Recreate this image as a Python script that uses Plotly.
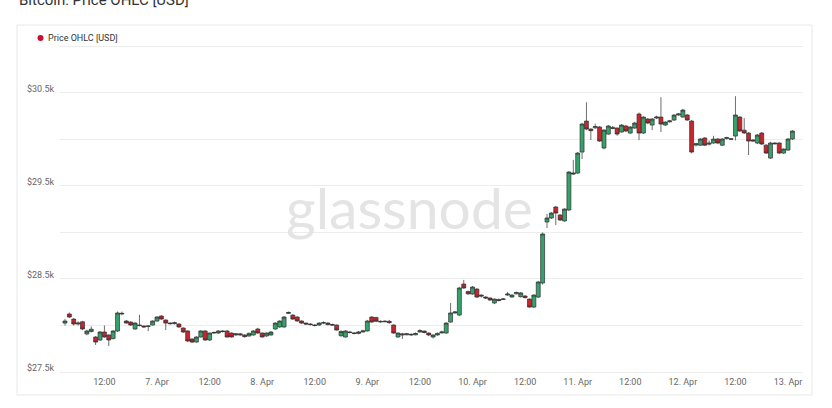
import plotly.graph_objects as go
import pandas as pd

# ---------------- data ----------------
times = pd.date_range("2023-04-06 03:00", periods=167, freq="h")

opens = [28026, 28124, 28069, 28016, 28040, 27909, 27935, 27876, 27844, 27930,
         27898, 27860, 27941, 28124, 28048, 28037, 27962, 28005, 27995, 27990,
         28005, 28048, 28102, 28059, 28026, 28020, 28016, 27973, 27941, 27855,
         27822, 27876, 27941, 27844, 27919, 27919, 27941, 27941, 27919, 27898,
         27910, 27898, 27887, 27898, 27962, 27919, 27887, 27898, 27962, 27984,
         27984, 28130, 28112, 28091, 28048, 28026, 28016, 28005, 28005, 28026,
         28026, 28010, 28005, 27890, 27876, 27930, 27920, 27915, 27930, 27941,
         28091, 28085, 28045, 28040, 28045, 28005, 27876, 27910, 27900, 27905,
         27900, 27930, 27940, 27919, 27876, 27898, 27920, 27919, 28037, 28135,
         28112, 28446, 28365, 28338, 28392, 28327, 28306, 28296, 28242, 28280,
         28280, 28327, 28306, 28340, 28310, 28317, 28284, 28198, 28306, 28457,
         29113, 29156, 29274, 29188, 29124, 29242, 29640, 29639, 29865, 30198,
         30112, 30125, 30134, 29908, 30058, 30130, 30123, 30080, 30145, 30069,
         30123, 30274, 30069, 30220, 30155, 30230, 30241, 30155, 30190, 30209,
         30263, 30241, 30263, 30198, 29940, 29939, 30016, 29950, 29962, 30005,
         29939, 30010, 30008, 30037, 30241, 30100, 30069, 29994, 29962, 30069,
         29939, 29800, 29962, 29962, 29854, 29886, 30005]

highs = [28070, 28140, 28080, 28045, 28050, 27955, 27990, 27885, 27940, 28000,
         27905, 27950, 28150, 28150, 28060, 28045, 28035, 28115, 28000, 28000,
         28055, 28100, 28110, 28065, 28035, 28040, 28025, 27980, 27950, 27860,
         27885, 27950, 27950, 27925, 27935, 27950, 27950, 27950, 27925, 27920,
         27920, 27905, 27925, 27950, 27975, 27925, 27925, 27940, 28035, 28055,
         28100, 28150, 28120, 28100, 28055, 28030, 28025, 28015, 28035, 28045,
         28035, 28020, 28010, 27950, 27950, 27940, 27925, 27940, 27955, 28060,
         28100, 28095, 28055, 28055, 28060, 28010, 27925, 27920, 27920, 27915,
         27925, 27960, 27945, 27925, 27905, 27925, 27945, 28035, 28242, 28155,
         28415, 28490, 28375, 28425, 28400, 28335, 28315, 28300, 28290, 28290,
         28295, 28360, 28335, 28365, 28360, 28325, 28290, 28335, 28480, 29000,
         29200, 29220, 29285, 29195, 29260, 29660, 29780, 29865, 30180, 30400,
         30120, 30170, 30145, 30110, 30155, 30145, 30130, 30165, 30155, 30145,
         30190, 30290, 30250, 30230, 30230, 30255, 30455, 30195, 30210, 30270,
         30285, 30330, 30275, 30210, 29965, 30015, 30025, 29990, 30040, 30015,
         30015, 30030, 30012, 30466, 30250, 30230, 30080, 30005, 30060, 30080,
         29950, 29975, 29970, 29970, 29905, 30015, 30100]

lows = [28000, 28080, 28000, 28000, 27950, 27895, 27925, 27790, 27835, 27870,
        27779, 27850, 27930, 28110, 28020, 27995, 27955, 27990, 27975, 27940,
        28000, 28040, 28060, 27951, 28010, 28010, 27975, 27920, 27822, 27810,
        27815, 27870, 27835, 27835, 27910, 27910, 27925, 27870, 27870, 27890,
        27890, 27870, 27880, 27890, 27910, 27870, 27880, 27890, 27955, 27975,
        27975, 28125, 28060, 28040, 28015, 28005, 28000, 27990, 27995, 28015,
        28000, 27995, 27945, 27880, 27870, 27915, 27905, 27905, 27925, 27935,
        28030, 28035, 28030, 28035, 28020, 27910, 27870, 27855, 27895, 27890,
        27895, 27925, 27915, 27885, 27860, 27890, 27915, 27910, 28030, 28125,
        28100, 28395, 28330, 28330, 28295, 28300, 28285, 28265, 28230, 28260,
        28275, 28320, 28300, 28335, 28300, 28290, 28190, 28190, 28295, 28440,
        29048, 29145, 29081, 29125, 29115, 29230, 29620, 29630, 29790, 30100,
        29994, 30115, 29975, 29895, 30050, 30110, 30040, 30075, 30080, 30060,
        30115, 29994, 30060, 30165, 30100, 30220, 30080, 30145, 30180, 30200,
        30255, 30235, 30200, 29850, 29925, 29930, 29930, 29935, 29955, 29950,
        29930, 30000, 29995, 29990, 30080, 30060, 29833, 29975, 29950, 29940,
        29845, 29790, 29945, 29845, 29845, 29880, 29995]

closes = [28048, 28091, 28016, 28026, 27962, 27941, 27960, 27822, 27930, 27876,
          27844, 27941, 28135, 28130, 28026, 28005, 28026, 28000, 27985, 27994,
          28048, 28091, 28069, 28026, 28020, 28030, 27984, 27930, 27833, 27822,
          27876, 27941, 27844, 27919, 27925, 27941, 27935, 27876, 27876, 27910,
          27900, 27880, 27915, 27941, 27919, 27876, 27919, 27930, 28026, 28048,
          28091, 28140, 28069, 28048, 28026, 28016, 28010, 28000, 28026, 28030,
          28010, 28005, 27951, 27935, 27941, 27925, 27915, 27930, 27941, 28048,
          28037, 28045, 28040, 28045, 28030, 27919, 27919, 27900, 27910, 27900,
          27915, 27945, 27925, 27898, 27898, 27915, 27930, 28026, 28135, 28145,
          28403, 28403, 28340, 28414, 28306, 28317, 28296, 28274, 28284, 28268,
          28285, 28338, 28327, 28355, 28350, 28300, 28198, 28327, 28468, 28984,
          29156, 29209, 29209, 29134, 29252, 29650, 29630, 29854, 30166, 30112,
          30095, 30140, 29983, 30101, 30145, 30120, 30058, 30155, 30091, 30134,
          30177, 30069, 30241, 30177, 30220, 30241, 30166, 30187, 30200, 30263,
          30274, 30316, 30209, 29865, 29955, 30005, 29939, 29960, 30005, 29962,
          30005, 30020, 30003, 30263, 30091, 30070, 29983, 29985, 30048, 29951,
          29854, 29962, 29955, 29854, 29897, 30005, 30091]

grid_vals = [27500, 28000, 28500, 29000, 29500, 30000, 30500, 31000]
y_label_vals = [27500, 28500, 29500, 30500]
y_label_text = ["$27.5k", "$28.5k", "$29.5k", "$30.5k"]

x_tick_vals = ["2023-04-06 12:00", "2023-04-07 00:00", "2023-04-07 12:00", "2023-04-08 00:00",
               "2023-04-08 12:00", "2023-04-09 00:00", "2023-04-09 12:00", "2023-04-10 00:00",
               "2023-04-10 12:00", "2023-04-11 00:00", "2023-04-11 12:00", "2023-04-12 00:00",
               "2023-04-12 12:00", "2023-04-13 00:00"]
x_tick_text = ["12:00", "7. Apr", "12:00", "8. Apr", "12:00", "9. Apr", "12:00", "10. Apr",
               "12:00", "11. Apr", "12:00", "12. Apr", "12:00", "13. Apr"]

title_text = "Bitcoin: Price OHLC [USD]"
legend_text = "Price OHLC [USD]"
watermark = "glassnode"

# ---------------- layout geometry ----------------
W, H = 832, 408
L, R, T, B = 60, 803, 45, 375


def px_x(px):
    return (px - L) / (R - L)


def px_y(py):
    return (B - py) / (B - T)


fig = go.Figure()
fig.add_trace(go.Candlestick(
    x=times, open=opens, high=highs, low=lows, close=closes,
    increasing=dict(line=dict(color="#2f2f2f", width=0.7), fillcolor="#35a26c"),
    decreasing=dict(line=dict(color="#2f2f2f", width=0.7), fillcolor="#c8262e"),
    whiskerwidth=0, showlegend=False, hoverinfo="skip",
))

annotations = []
# title (partly cut off at the top)
annotations.append(dict(text=title_text, xref="paper", yref="paper",
                        x=px_x(17), y=px_y(0), xanchor="left", yanchor="middle",
                        showarrow=False, font=dict(family="Roboto", size=15, color="#333333")))
# legend text
annotations.append(dict(text=legend_text, xref="paper", yref="paper",
                        x=px_x(46), y=px_y(38), xanchor="left", yanchor="middle",
                        showarrow=False, font=dict(family="Roboto", size=9, color="#333333")))
# watermark
annotations.append(dict(text=watermark, xref="paper", yref="paper",
                        x=px_x(409), y=px_y(207), xanchor="center", yanchor="middle",
                        showarrow=False, font=dict(family="Lato", size=57, color="#e4e4e4")))
# y labels
for v, t in zip(y_label_vals, y_label_text):
    annotations.append(dict(text=t, xref="paper", yref="y", x=px_x(25), y=v,
                            xanchor="left", yanchor="middle", yshift=4, showarrow=False,
                            font=dict(family="Roboto", size=9, color="#666666")))

shapes = [
    dict(type="rect", xref="paper", yref="paper", layer="below",
         x0=px_x(17), x1=px_x(812), y0=px_y(395), y1=px_y(25),
         line=dict(color="#e8e8e8", width=1), fillcolor="rgba(0,0,0,0)"),
    dict(type="circle", xref="paper", yref="paper",
         x0=px_x(37.5), x1=px_x(43.5), y0=px_y(41), y1=px_y(35),
         line=dict(color="#c8102e", width=0), fillcolor="#c8102e"),
]

fig.update_layout(
    width=W, height=H,
    margin=dict(l=L, r=W - R, t=T, b=H - B, pad=0),
    paper_bgcolor="white", plot_bgcolor="white",
    font=dict(family="Roboto", size=9, color="#666666"),
    annotations=annotations, shapes=shapes,
    boxgap=0.1, boxgroupgap=0.0,
    xaxis=dict(range=["2023-04-06 01:52", "2023-04-13 03:25"],
               tickvals=x_tick_vals, ticktext=x_tick_text,
               showgrid=False, zeroline=False, showline=False, ticks="",
               rangeslider=dict(visible=False),
               tickfont=dict(family="Roboto", size=9, color="#666666")),
    yaxis=dict(range=[27467.7, 31016], tickvals=grid_vals, showticklabels=False,
               showgrid=True, gridcolor="#ededed", gridwidth=1,
               zeroline=False, showline=False, ticks=""),
    hovermode=False,
)

fig.write_html("out.html", config={"displayModeBar": False},
               post_script="document.body.style.margin='0';")
